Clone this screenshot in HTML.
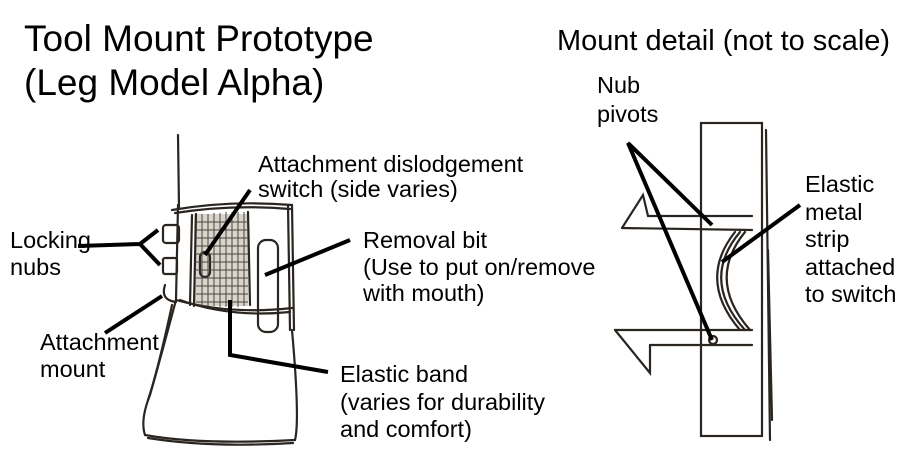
<!DOCTYPE html>
<html><head><meta charset="utf-8"><style>
html,body{margin:0;padding:0;background:#fff;}
svg{display:block;}
text{font-family:"Liberation Sans",sans-serif;fill:#000;}
</style></head><body>
<svg width="900" height="460" viewBox="0 0 900 460" xmlns="http://www.w3.org/2000/svg">
<rect width="900" height="460" fill="#fff"/>
<!-- titles -->
<text x="24" y="51" font-size="37">Tool Mount Prototype</text>
<text x="24" y="95" font-size="37">(Leg Model Alpha)</text>
<text x="557" y="50" font-size="29" textLength="333" lengthAdjust="spacingAndGlyphs">Mount detail (not to scale)</text>

<!-- leg sketch -->
<rect x="194" y="214" width="54" height="92" fill="#d8d4cc"/>
<g fill="none" stroke="#2a2520" stroke-width="2.2" stroke-linecap="round">
  <path d="M178 135 L179 208"/>
  <path d="M172 210 Q230 200 292 205"/>
  <path d="M175 213 Q232 204 290 209"/>
  <path d="M178 205 L176 300 Q230 315 292 308"/>
  <path d="M180 300 Q230 318 290 312"/>
  <path d="M292 205 L294 330"/>
  <path d="M288 205 L290 330"/>
  <path d="M192 215 L190 305"/>
  <path d="M196 214 L194 306"/>
  <path d="M248 212 L250 305"/>
  <rect x="258" y="240" width="20" height="92" rx="8"/>
  <path d="M176 300 Q160 360 150 395 Q140 420 145 435 Q200 445 295 440 Q300 420 292 330"/>
  <path d="M172 305 Q158 370 148 400"/>
  <path d="M148 438 Q210 448 293 443"/>
  <rect x="163" y="225" width="16" height="18" rx="3"/>
  <rect x="163" y="258" width="14" height="16" rx="2"/>
  <path d="M165 285 Q160 300 176 302"/>
  <rect x="200" y="252" width="10" height="25" rx="5"/>
</g>
<g stroke="#4a453d" stroke-width="1" fill="none">
  <path d="M196 222 H248 M196 230 H248 M196 238 H248 M196 246 H248 M196 254 H248 M196 262 H248 M196 270 H248 M196 278 H248 M196 286 H248 M196 294 H248 M196 302 H248"/>
  <path d="M202 214 V306 M208 214 V306 M214 213 V306 M220 213 V307 M226 212 V307 M232 212 V307 M238 212 V307 M244 212 V306"/>
</g>

<!-- mount detail sketch -->
<g fill="none" stroke="#2a2520" stroke-width="2.2" stroke-linecap="round">
  <rect x="701" y="123" width="61" height="313"/>
  <path d="M766 130 L770 440"/>
  <path d="M768 250 L772 420"/>
  <path d="M648 216 L752 216"/>
  <path d="M622 228 L752 230"/>
  <path d="M622 228 L643 195 L648 216"/>
  <path d="M615 330 L752 330"/>
  <path d="M650 345 L752 345"/>
  <path d="M615 330 L650 373 L650 345"/>
  <path d="M740 232 Q700 280 745 330"/>
  <path d="M735 232 Q697 280 740 330"/>
  <path d="M745 232 Q706 280 750 330"/>
  <circle cx="713" cy="340" r="4"/>
</g>

<!-- leader lines -->
<g stroke="#000" stroke-width="4" fill="none" stroke-linecap="butt">
  <path d="M78 246 L140 244 L158 230 M140 244 L160 265"/>
  <path d="M105 333 L162 296"/>
  <path d="M250 190 L205 255"/>
  <path d="M350 240 L265 275"/>
  <path d="M230 300 L230 355 L328 372"/>
  <path d="M712 225 L628 143 L712 340"/>
  <path d="M800 205 L722 262"/>
</g>

<!-- labels -->
<g font-size="23.5">
  <text x="258" y="172">Attachment dislodgement</text>
  <text x="258" y="197">switch (side varies)</text>
  <text x="10" y="248">Locking</text>
  <text x="10" y="275">nubs</text>
  <text x="363" y="248">Removal bit</text>
  <text x="363" y="275">(Use to put on/remove</text>
  <text x="363" y="301">with mouth)</text>
  <text x="40" y="350">Attachment</text>
  <text x="40" y="377">mount</text>
  <text x="340" y="382">Elastic band</text>
  <text x="340" y="410">(varies for durability</text>
  <text x="340" y="437">and comfort)</text>
  <text x="597" y="93">Nub</text>
  <text x="597" y="122">pivots</text>
  <text x="805" y="192">Elastic</text>
  <text x="805" y="220">metal</text>
  <text x="805" y="247">strip</text>
  <text x="805" y="275">attached</text>
  <text x="805" y="302">to switch</text>
</g>
</svg>
</body></html>
